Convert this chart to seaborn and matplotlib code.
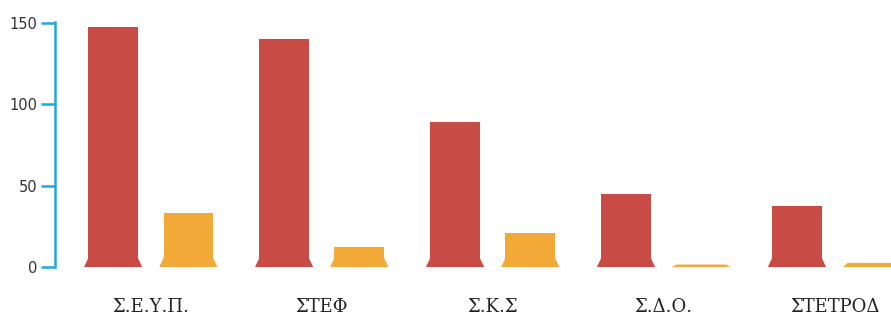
import pandas as pd
import matplotlib.pyplot as plt
import seaborn as sns
from matplotlib.patches import Polygon

categories = ["Σ.Ε.Υ.Π.", "ΣΤΕΦ", "Σ.Κ.Σ", "Σ.Δ.Ο.", "ΣΤΕΤΡΟΔ"]
series_names = ["A", "B"]
values_a = [147.5, 140, 89, 45, 37.5]
values_b = [33, 12, 21, 1.5, 2.5]
yticks = [0, 50, 100, 150]

df = pd.DataFrame({
    "cat": categories * 2,
    "series": [series_names[0]] * 5 + [series_names[1]] * 5,
    "value": values_a + values_b,
})

sns.set_style("white")
fig = plt.figure(figsize=(8.91, 3.15), dpi=100)
ax = fig.add_axes([55 / 891, 1 - 267 / 315, 1 - 55 / 891, (267 - 22) / 315])

palette = {"A": "#c94b46", "B": "#f1a937"}
sns.barplot(data=df, x="cat", y="value", hue="series", palette=palette,
            width=0.88, gap=0.34, legend=False, ax=ax, saturation=1,
            linewidth=0, edgecolor="none")

# flared base on each bar
flare_w = 0.025
flare_h = 5.5
for p in list(ax.patches):
    x0 = p.get_x()
    w = p.get_width()
    h = p.get_height()
    fh = min(flare_h, h)
    top = min(fh + 1.5, h)
    poly = Polygon([(x0 - flare_w, 0), (x0 + w + flare_w, 0), (x0 + w, fh),
                    (x0 + w, top), (x0, top), (x0, fh)],
                   closed=True, facecolor=p.get_facecolor(), edgecolor="none",
                   linewidth=0)
    ax.add_patch(poly)

ax.set_xlim(-0.56, 4.33)
ax.set_ylim(0, 150.6)
ax.set_yticks(yticks)
ax.set_xlabel("")
ax.set_ylabel("")

for s in ["top", "right", "bottom"]:
    ax.spines[s].set_visible(False)
ax.spines["left"].set_color("#1fa8e0")
ax.spines["left"].set_linewidth(1.8)

ax.tick_params(axis="y", length=10, width=1.8, color="#1fa8e0", pad=3,
               labelsize=10.5, labelcolor="#333333", left=True)
ax.tick_params(axis="x", length=0, pad=22)
for lab in ax.get_xticklabels():
    lab.set_fontfamily("DejaVu Serif")
    lab.set_fontsize(13)
    lab.set_color("#222222")

fig.savefig("out.png", dpi=100)
